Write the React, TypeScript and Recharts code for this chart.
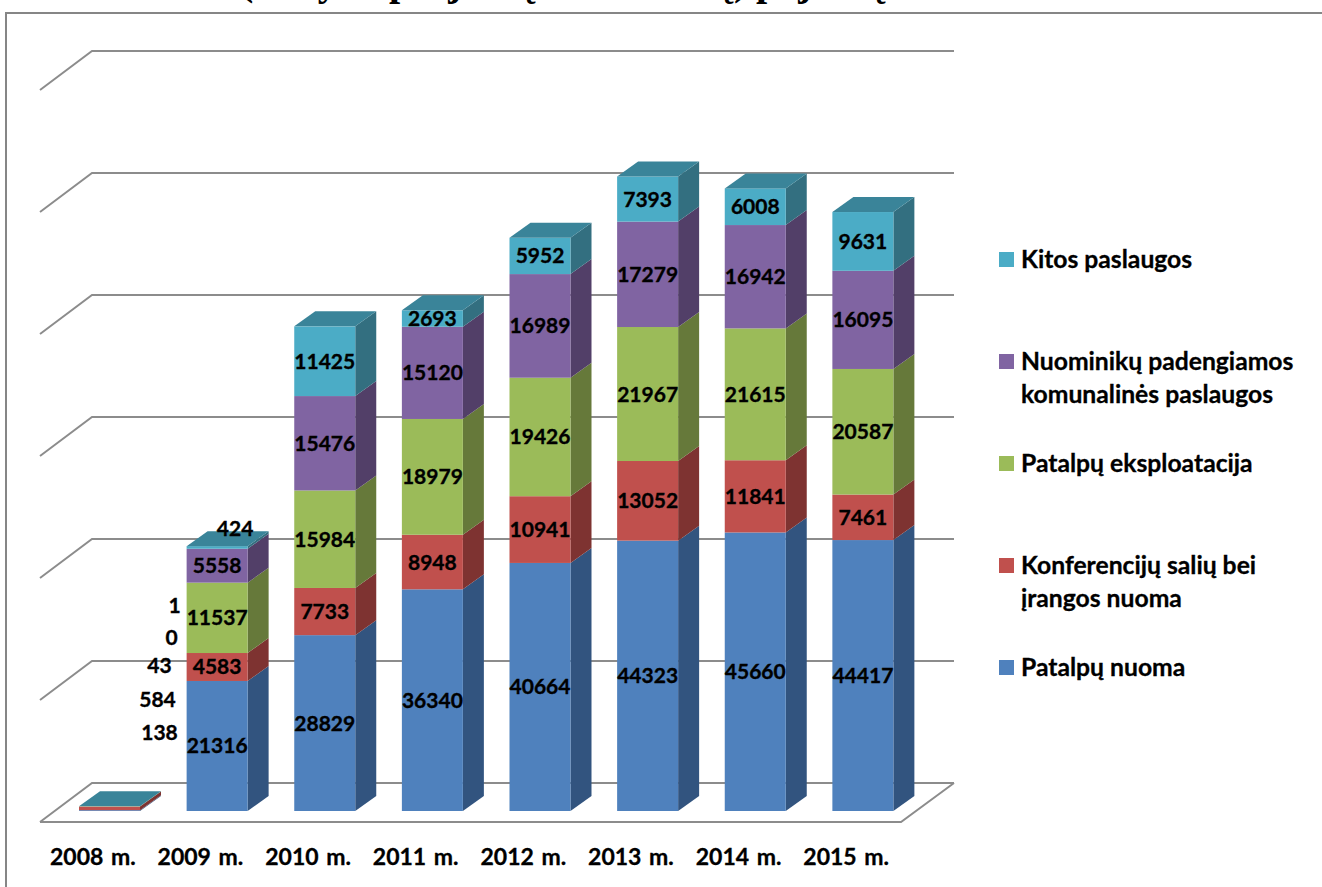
import React from "react";
import { BarChart, Bar, XAxis, YAxis, CartesianGrid, Legend, LabelList, ReferenceLine } from "recharts";

const years = ["2008 m.", "2009 m.", "2010 m.", "2011 m.", "2012 m.", "2013 m.", "2014 m.", "2015 m."];
const patalpuNuoma = [138, 21316, 28829, 36340, 40664, 44323, 45660, 44417];
const konferenciju = [584, 4583, 7733, 8948, 10941, 13052, 11841, 7461];
const eksploatacija = [43, 11537, 15984, 18979, 19426, 21967, 21615, 20587];
const komunalines = [0, 5558, 15476, 15120, 16989, 17279, 16942, 16095];
const kitos = [1, 424, 11425, 2693, 5952, 7393, 6008, 9631];
const yTicks = [0, 20000, 40000, 60000, 80000, 100000, 120000];

const titleWords = ["(išskyrus", "projektų", "finansavimų)", "pajamų"];

const data = years.map((year, i) => ({
  year,
  a: patalpuNuoma[i],
  b: konferenciju[i],
  c: eksploatacija[i],
  d: komunalines[i],
  e: kitos[i],
}));

const series = [
  { key: "a", name: "Patalpų nuoma", fill: "#4F81BD", side: "#32547F" },
  { key: "b", name: "Konferencijų salių bei įrangos nuoma", fill: "#C0504D", side: "#7E3331" },
  { key: "c", name: "Patalpų eksploatacija", fill: "#9BBB59", side: "#66793A" },
  { key: "d", name: "Nuominikų padengiamos komunalinės paslaugos", fill: "#8064A2", side: "#523F68" },
  { key: "e", name: "Kitos paslaugos", fill: "#4BACC6", side: "#336F80" },
];
const topColor = "#3A8499";
const FONT = "Lato, 'Open Sans', sans-serif";
const DEPTH_X = 21;
const DEPTH_Y = 15;
const GRID = "#8C8C8C";

// Hand-moved labels in the reference, offset from each label's natural centre.
const movedLabels: Record<string, Record<number, [number, number]>> = {
  a: { 0: [50, -78] },
  b: { 0: [48, -109] },
  c: { 0: [50, -141] },
  d: { 0: [62, -169] },
  e: { 0: [65, -201], 1: [18, -19] },
};

const makeShape = (side: string, isTop: boolean) => (p: any) => {
  const { x, y, width: w, height: h, fill } = p;
  const r = x + w;
  return (
    <g>
      <path d={`M${r},${y} L${r + DEPTH_X},${y - DEPTH_Y} L${r + DEPTH_X},${y + h - DEPTH_Y} L${r},${y + h} Z`} fill={side} />
      <rect x={x} y={y} width={w} height={h} fill={fill} />
      {isTop && (
        <path d={`M${x},${y} L${x + DEPTH_X},${y - DEPTH_Y} L${r + DEPTH_X},${y - DEPTH_Y} L${r},${y} Z`} fill={topColor} />
      )}
    </g>
  );
};

const makeLabel = (key: string) => (p: any) => {
  const off = movedLabels[key]?.[p.index] ?? [0, 0];
  return (
    <text
      x={p.x + p.width / 2 + off[0]}
      y={p.y + p.height / 2 + off[1] - 1}
      textAnchor="middle"
      dominantBaseline="central"
      fontFamily={FONT}
      fontWeight={700}
      fontSize={21}
      stroke="#000"
      strokeWidth={0.35}
      fill="#000"
    >
      {p.value}
    </text>
  );
};

const gridLine = (p: any) => {
  const { x1, x2, y1 } = p;
  return (
    <path
      key={p.key}
      d={`M${x1 - 16},${y1 + 11} L${x1 + 36},${y1 - 28} L${x2 + 37},${y1 - 28}`}
      fill="none"
      stroke={GRID}
      strokeWidth={2}
    />
  );
};

const floorEdge = (p: any) => {
  const { x1, x2, y1 } = p;
  return (
    <path
      d={`M${x1 - 16},${y1 + 11} L${x2 - 16},${y1 + 11} L${x2 + 37},${y1 - 28}`}
      fill="none"
      stroke={GRID}
      strokeWidth={2}
    />
  );
};

const yearTick = (p: any) => (
  <text
    x={p.x - 17}
    y={856}
    textAnchor="middle"
    dominantBaseline="central"
    fontFamily={FONT}
    fontWeight={700}
    fontSize={23}
    wordSpacing={2}
    stroke="#000"
    strokeWidth={0.3}
    fill="#000"
  >
    {p.payload.value}
  </text>
);

const legendContent = (p: any) => (
  <div style={{ fontFamily: FONT, fontWeight: 700, fontSize: 24.7, lineHeight: "33px", color: "#000", whiteSpace: "normal", WebkitTextStroke: "0.3px #000" }}>
    {[...(p.payload ?? [])].reverse().map((it: any) => (
      <div key={it.value} style={{ height: 102, display: "flex", alignItems: "flex-start" }}>
        <span style={{ width: 15, height: 15, marginTop: 10, marginRight: 7, background: it.color, flex: "none" }} />
        <span style={{ width: 295 }}>{it.value}</span>
      </div>
    ))}
  </div>
);

export default function App() {
  return (
    <div style={{ position: "absolute", left: 0, top: 0, width: 1322, height: 887, overflow: "hidden", background: "#fff" }}>
      <div style={{ position: "absolute", left: 5, top: 12, right: 0, bottom: 0, borderLeft: "2px solid #868686", borderTop: "2px solid #868686" }} />
      <BarChart width={1322} height={887} data={data} margin={{ top: 79, right: 405, bottom: 0, left: 56 }}>
        <text y={-5} fontFamily="'Liberation Serif', serif" fontWeight={700} fontSize={40} fill="#000">
          <tspan x={240}>{titleWords[0]}</tspan>
          <tspan x={389}>{titleWords[1]}</tspan>
          <tspan x={536} letterSpacing={-1.2}>{titleWords[2]}</tspan>
          <tspan x={756}>{titleWords[3]}</tspan>
        </text>
        <CartesianGrid vertical={false} horizontal={gridLine} />
        <XAxis dataKey="year" axisLine={false} tickLine={false} height={76} tick={yearTick} interval={0} />
        <YAxis hide domain={[0, 120000]} ticks={yTicks} />
        <ReferenceLine y={0} shape={floorEdge} />
        <Legend
          content={legendContent}
          layout="vertical"
          align="center"
          verticalAlign="middle"
          itemSorter={null}
          wrapperStyle={{ position: "absolute", left: 999, top: 242, width: 323, height: 520 }}
        />
        {series.map((s, i) => (
          <Bar
            key={s.key}
            dataKey={s.key}
            name={s.name}
            stackId="stack"
            fill={s.fill}
            barSize={61}
            isAnimationActive={false}
            shape={makeShape(s.side, i === series.length - 1)}
          >
            <LabelList dataKey={s.key} content={makeLabel(s.key)} />
          </Bar>
        ))}
      </BarChart>
    </div>
  );
}
